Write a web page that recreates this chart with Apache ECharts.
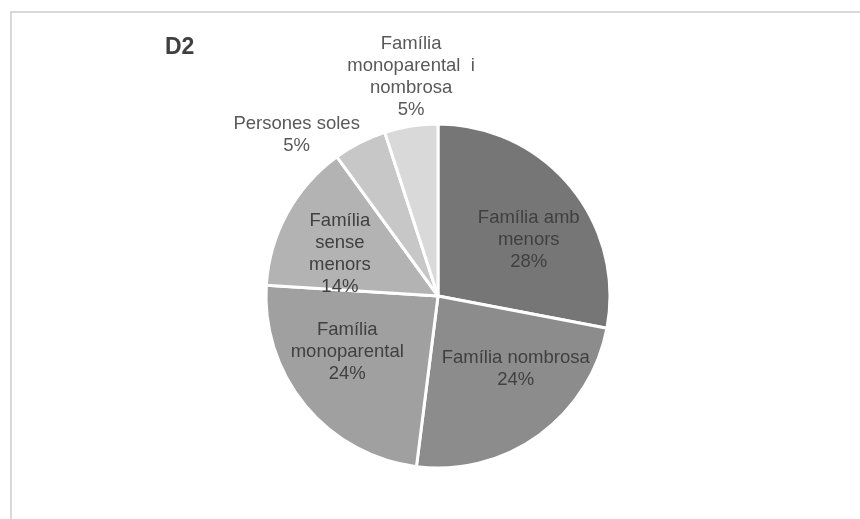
<!DOCTYPE html>
<html style="height: 100%;">
<head>
    <meta charset="utf-8">
    <script src="https://cdn.jsdelivr.net/npm/echarts@6/dist/echarts.min.js"></script>
</head>
<body style="height: 100%; margin: 0; background-color: #fff;">
<div id="container" style="width: 860px; height: 519px;"></div>
<script type="text/javascript">
// data
var categories = ['Família amb menors', 'Família nombrosa', 'Família monoparental',
                  'Família sense menors', 'Persones soles', 'Família monoparental i nombrosa'];
var labelTexts = ['Família amb\nmenors', 'Família nombrosa', 'Família\nmonoparental',
                  'Família\nsense\nmenors', 'Persones soles', 'Família\nmonoparental  i\nnombrosa'];
var values = [28, 24, 24, 14, 5, 5];
var colors = ['#767676', '#8c8c8c', '#a0a0a0', '#b3b3b3', '#c7c7c7', '#d9d9d9'];

var cx = 438, cy = 296, R = 172;
var total = values.reduce(function (a, b) { return a + b; }, 0);

// middle angle of a slice, clockwise from 12 o'clock
function midAngle(i) {
    var cum = 0;
    for (var k = 0; k < i; k++) cum += values[k];
    return (cum + values[i] / 2) / total * Math.PI * 2;
}

var dom = document.getElementById('container');
var myChart = echarts.init(dom);
var option = {
    animation: false,
    graphic: [{
        type: 'rect',
        shape: { x: 11, y: 12, width: 900, height: 600 },
        style: { fill: 'none', stroke: '#d9d9d9', lineWidth: 2 },
        silent: true
    }],
    title: {
        text: 'D2',
        left: 160,
        top: 31,
        textStyle: {
            color: '#404040',
            fontWeight: 'bold',
            fontSize: 23,
            fontFamily: 'Liberation Sans, Arial, sans-serif'
        }
    },
    series: [{
        type: 'pie',
        center: [cx, cy],
        radius: R,
        startAngle: 90,
        clockwise: true,
        itemStyle: { borderColor: '#fff', borderWidth: 3 },
        label: {
            show: true,
            position: 'inside',
            color: '#404040',
            fontSize: 18.5,
            lineHeight: 22,
            align: 'center',
            fontFamily: 'Liberation Sans, Arial, sans-serif',
            formatter: function (p) {
                return labelTexts[p.dataIndex] + '\n' + p.value + '%';
            }
        },
        labelLine: { show: false },
        labelLayout: function (p) {
            var i = p.dataIndex;
            var a = midAngle(i);
            var w = p.labelRect.width, h = p.labelRect.height;
            if (values[i] >= 10) {
                // inside: pull a bit toward the horizontal axis, like Excel
                var side = Math.sin(a) >= 0 ? Math.PI / 2 : Math.PI * 1.5;
                var b = a + (side - a) * 0.2;
                var d = R * 0.62;
                return { x: cx + Math.sin(b) * d, y: cy - Math.cos(b) * d };
            }
            // outside: attach the label to the rim point
            var dx = Math.sin(a), dy = -Math.cos(a);
            var ax = cx + dx * R, ay = cy + dy * R;
            if (Math.abs(dx) > 0.3) {
                return { x: ax + Math.sign(dx) * w / 2, y: ay + dy * h * 0.2 };
            }
            return { x: ax, y: ay + Math.sign(dy) * (h / 2 + 5) };
        },
        data: categories.map(function (c, i) {
            return {
                name: c,
                value: values[i],
                itemStyle: { color: colors[i] },
                label: values[i] < 10 ? { color: '#595959' } : {}
            };
        })
    }]
};
myChart.setOption(option);
</script>
</body>
</html>
